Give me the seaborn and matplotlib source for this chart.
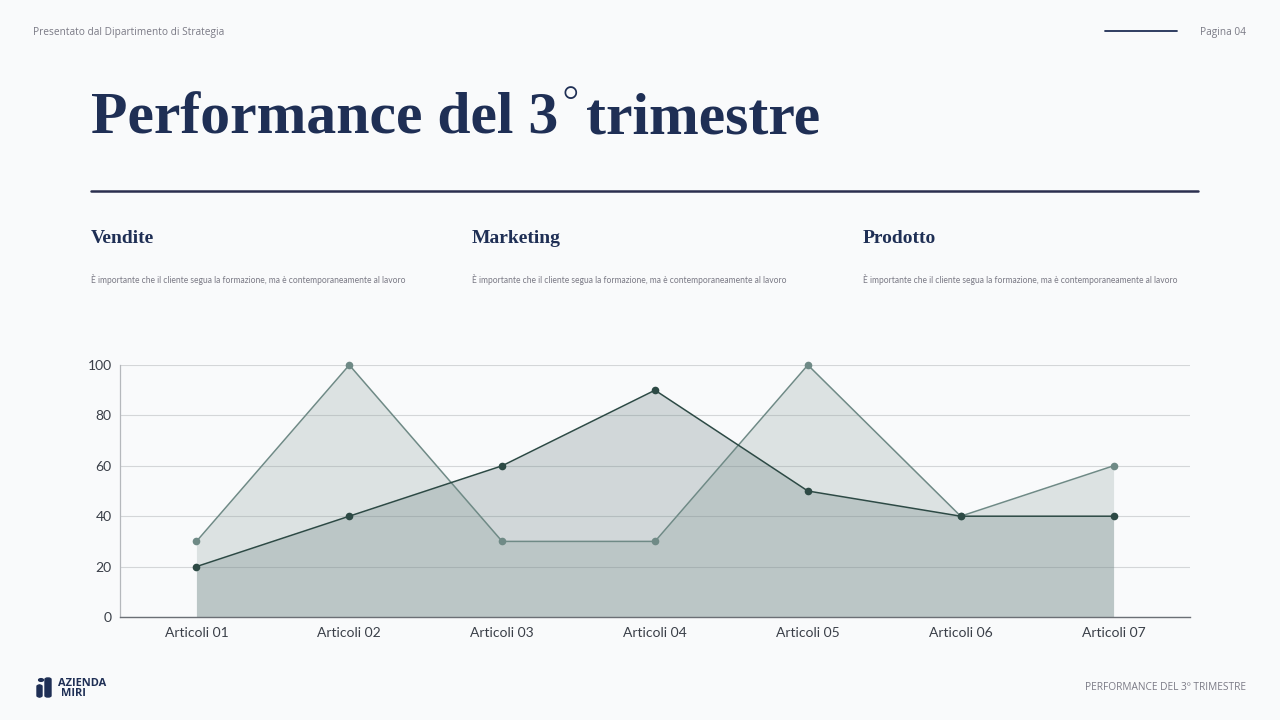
import numpy as np
import pandas as pd
import seaborn as sns
import matplotlib.pyplot as plt
from matplotlib.patches import Circle, FancyBboxPatch
from matplotlib.lines import Line2D

categories = ['Articoli 01', 'Articoli 02', 'Articoli 03', 'Articoli 04',
              'Articoli 05', 'Articoli 06', 'Articoli 07']
serie_chiara = [30, 100, 30, 30, 100, 40, 60]
serie_scura = [20, 40, 60, 90, 50, 40, 40]
y_ticks = [0, 20, 40, 60, 80, 100]
sezioni = ['Vendite', 'Marketing', 'Prodotto']
descrizione = 'È importante che il cliente segua la formazione, ma è contemporaneamente al lavoro'

BG = '#f9fafb'
NAVY = '#1f2f55'
GRAY = '#7a7a85'
SERIF = ['Liberation Serif', 'DejaVu Serif']
SANS = ['Lato', 'DejaVu Sans']
OPEN = ['Open Sans', 'DejaVu Sans']

sns.set_theme(style='white')
plt.rcParams['font.family'] = SANS

df = pd.DataFrame({
    'cat': categories * 2,
    'x': list(range(len(categories))) * 2,
    'val': serie_chiara + serie_scura,
    'serie': ['chiara'] * len(categories) + ['scura'] * len(categories),
})

fig = plt.figure(figsize=(12.8, 7.2), dpi=100, facecolor=BG)
W, H = 1280, 720

def fx(px):
    return px / W

def fy(py):
    return 1 - py / H

# header
fig.text(fx(33), fy(32), 'Presentato dal Dipartimento di Strategia', fontsize=7.3,
         color=GRAY, va='center', ha='left', family=OPEN)
fig.add_artist(Line2D([fx(1105), fx(1177)], [fy(31), fy(31)], color=NAVY, lw=1.3))
fig.text(fx(1246), fy(32), 'Pagina 04', fontsize=7.3, color=GRAY, va='center',
         ha='right', family=OPEN)

# titolo (3 + cerchietto in apice)
t1 = fig.text(fx(91), fy(133), 'Performance del 3', fontsize=43, color=NAVY,
              fontweight='bold', va='baseline', ha='left', family=SERIF)
fig.canvas.draw()
bb = t1.get_window_extent()
x_deg = bb.x1 / W
fig.text(x_deg + 0.5 / W, fy(120), '°', fontsize=34, color=NAVY, va='baseline',
         ha='left', family=['DejaVu Sans'], fontweight='light')
fig.text(x_deg + 28 / W, fy(133), 'trimestre', fontsize=43, color=NAVY,
         fontweight='bold', va='baseline', ha='left', family=SERIF)
fig.add_artist(Line2D([fx(91), fx(1198)], [fy(191), fy(191)], color='#2b2f4f', lw=1.8))

# sezioni
for nome, x0 in zip(sezioni, [91, 472, 863]):
    fig.text(fx(x0), fy(239), nome, fontsize=14, color=NAVY, fontweight='bold',
             va='center', ha='left', family=SERIF)
    fig.text(fx(x0), fy(280), descrizione, fontsize=6.15, color=GRAY,
             va='center', ha='left')

# grafico
ax = fig.add_axes([fx(120), fy(617), fx(1190) - fx(120), (617 - 365) / H])
ax.set_facecolor(BG)
x = np.arange(len(categories))
ax.fill_between(x, serie_chiara, color='#899e99', alpha=0.25, lw=0, zorder=1)
ax.fill_between(x, serie_scura, color='#5f7679', alpha=0.26, lw=0, zorder=1)
sns.lineplot(data=df, x='x', y='val', hue='serie', palette={'chiara': '#6f8a86', 'scura': '#2d4a45'},
             marker='o', markersize=5.5, markeredgewidth=0, linewidth=1.1, legend=False,
             ax=ax, zorder=3, clip_on=False)

ax.set_xlim(-0.5, len(categories) - 0.5)
ax.set_ylim(0, 100)
ax.set_xticks(x)
ax.set_xticklabels(categories)
ax.set_yticks(y_ticks)
ax.set_xlabel('')
ax.set_ylabel('')
ax.grid(axis='y', color='#d4d6d8', lw=0.8, zorder=0)
ax.set_axisbelow(True)
ax.tick_params(axis='both', length=0, labelsize=10, labelcolor='#3a3f48')
ax.tick_params(axis='x', pad=7)
ax.tick_params(axis='y', pad=6)
for s in ['top', 'right']:
    ax.spines[s].set_visible(False)
ax.spines['left'].set_color('#b5b8bc')
ax.spines['left'].set_linewidth(0.9)
ax.spines['bottom'].set_color('#6b6f75')
ax.spines['bottom'].set_linewidth(1.0)

# footer logo
fig.add_artist(Circle((fx(41), fy(680)), 2.4 / W, transform=fig.transFigure, color=NAVY))
fig.add_artist(FancyBboxPatch((fx(37), fy(697)), 5 / W, 12 / H,
                              boxstyle='round,pad=0,rounding_size=0.002',
                              transform=fig.transFigure, color=NAVY))
fig.add_artist(FancyBboxPatch((fx(45), fy(697)), 6 / W, 19 / H,
                              boxstyle='round,pad=0,rounding_size=0.002',
                              transform=fig.transFigure, color=NAVY))
fig.text(fx(58), fy(684), 'AZIENDA', fontsize=7.9, color=NAVY, fontweight='bold',
         va='center', ha='left', family=OPEN)
fig.text(fx(61), fy(694), 'MIRI', fontsize=7.9, color=NAVY, fontweight='bold',
         va='center', ha='left', family=OPEN)
fig.text(fx(1246), fy(687), 'PERFORMANCE DEL 3º TRIMESTRE', fontsize=7.3, color=GRAY,
         va='center', ha='right', family=OPEN)

fig.savefig('out.png', dpi=100, facecolor=BG)
